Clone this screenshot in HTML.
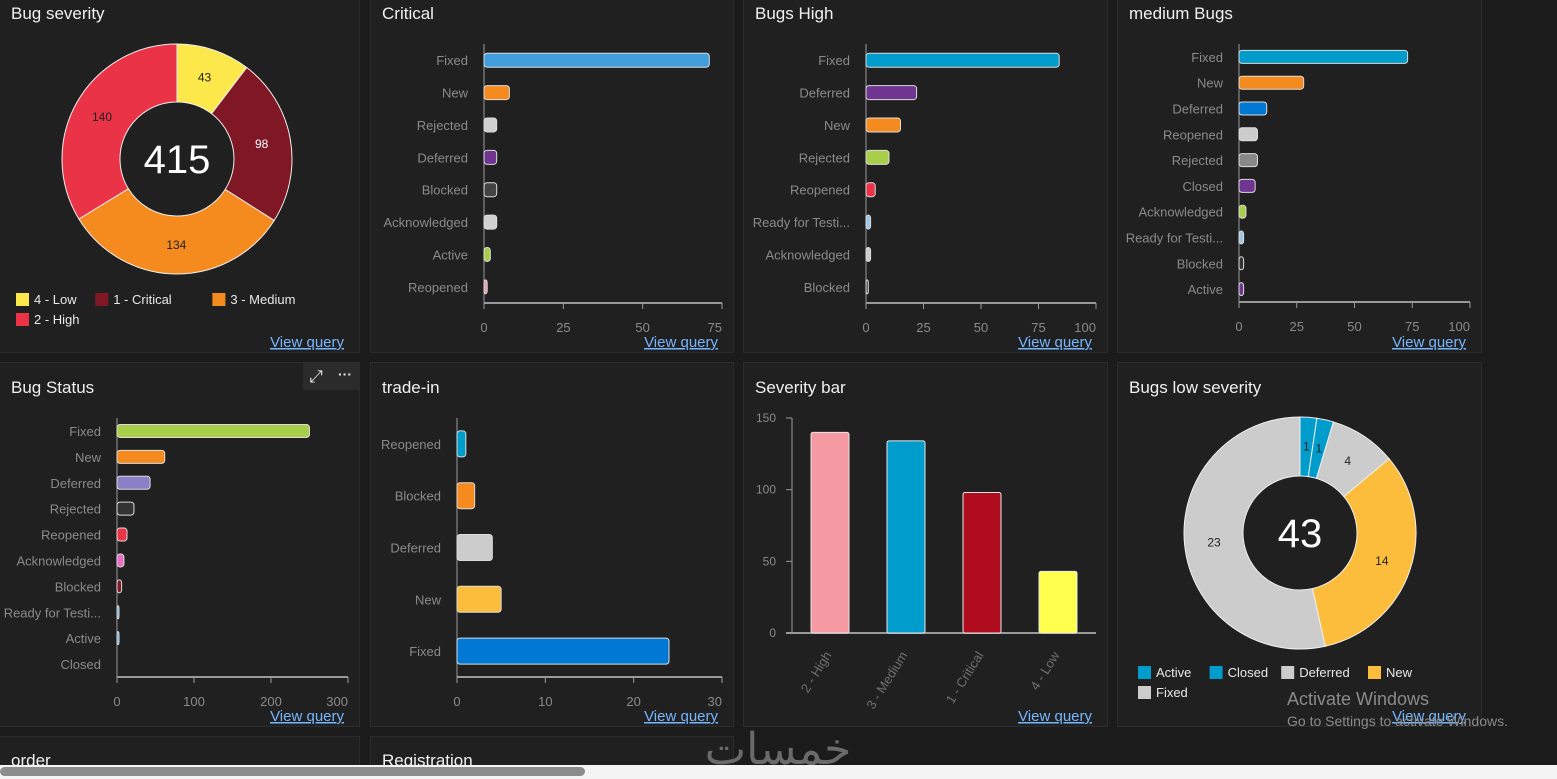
<!DOCTYPE html>
<html><head><meta charset="utf-8"><style>
html,body{margin:0;padding:0;background:#1b1b1b;width:1557px;height:779px;overflow:hidden}
svg text{font-family:"Liberation Sans","Noto Sans CJK SC",sans-serif}
</style></head><body>
<svg id="s" width="1557" height="779" xmlns="http://www.w3.org/2000/svg">
<rect x="0" y="0" width="1557" height="779" fill="#1b1b1b"/>
</svg>
<script>
// ---- data ----
const sevCats=["4 - Low","1 - Critical","3 - Medium","2 - High"];
const sevVals=[43,98,134,140];
const sevColors=["#fce84b","#7f1725","#f58b1f","#eb3348"];

const critCats=["Fixed","New","Rejected","Deferred","Blocked","Acknowledged","Active","Reopened"];
const critVals=[71,8,4,4,4,4,2,1];
const critTicks=[0,25,50,75];

const highCats=["Fixed","Deferred","New","Rejected","Reopened","Ready for Testi...","Acknowledged","Blocked"];
const highVals=[84,22,15,10,4,2,2,1];
const highTicks=[0,25,50,75,100];

const medCats=["Fixed","New","Deferred","Reopened","Rejected","Closed","Acknowledged","Ready for Testi...","Blocked","Active"];
const medVals=[73,28,12,8,8,7,3,2,2,2];
const medTicks=[0,25,50,75,100];

const statCats=["Fixed","New","Deferred","Rejected","Reopened","Acknowledged","Blocked","Ready for Testi...","Active","Closed"];
const statVals=[250,62,43,22,13,9,6,2,2,0];
const statTicks=[0,100,200,300];

const tradeCats=["Reopened","Blocked","Deferred","New","Fixed"];
const tradeVals=[1,2,4,5,24];
const tradeTicks=[0,10,20,30];

const barCats=["2 - High","3 - Medium","1 - Critical","4 - Low"];
const barVals=[140,134,98,43];
const barTicks=[0,50,100,150];

const lowCats=["Active","Closed","Deferred","New","Fixed"];
const lowVals=[1,1,4,14,23];

// ---- helpers ----
const NS="http://www.w3.org/2000/svg";
const svg=document.getElementById('s');
function mk(tag,attrs,parent,txt){const e=document.createElementNS(NS,tag);for(const k in attrs)e.setAttribute(k,attrs[k]);if(txt!==undefined)e.textContent=txt;(parent||svg).appendChild(e);return e;}

function panel(x,y,w,h,title,name,titleY,linkY){
  const g=mk('g',{});
  
  
  mk('rect',{x:x+0.5,y:y+0.5,width:w,height:h,fill:'#202020',stroke:'#2c2c2c'},g);
  const t=mk('text',{x:x+12,y:titleY,fill:'#f0f0f0','font-size':17},g,title);
  
  
  if(linkY){
    const l=mk('text',{x:x+w-15,y:linkY,fill:'#75b6ff','font-size':15,'text-anchor':'end','text-decoration':'underline'},g,'View query');
    
    
  }
  return g;
}

function hbar(g,cats,vals,colors,x0,x1,max,top,bottom,barH,ticks){
  const band=(bottom-top)/cats.length;
  const sx=v=>x0+(x1-x0)*v/max;
  mk('line',{x1:x0,y1:top,x2:x0,y2:bottom,stroke:'#9a9a9a'},g);
  mk('line',{x1:x0,y1:bottom,x2:x1,y2:bottom,stroke:'#9a9a9a','stroke-width':2},g);
  ticks.forEach(t=>{
    const last=t===ticks[ticks.length-1];
    mk('line',{x1:sx(t),y1:bottom,x2:sx(t),y2:bottom+6,stroke:'#9a9a9a'},g);
    const tl=mk('text',{x:sx(t),y:bottom+29,fill:'#8a8a8a','font-size':13,'text-anchor':last?'end':'middle'},g,String(t));
    
    
  });
  cats.forEach((c,i)=>{
    const cy=top+(i+0.5)*band;
    const lab=mk('text',{x:x0-16,y:cy+5,fill:'#8a8a8a','font-size':13,'text-anchor':'end'},g,c);
    
    
    const w=sx(vals[i])-x0;
    if(w>0){
      const b=mk('rect',{x:x0,y:cy-barH/2,width:Math.max(w,2),height:barH,rx:3,fill:colors[i],stroke:'#dcdcdc','stroke-width':1},g);
      
      
    }
  });
}

function donut(g,vals,colors,labelColors,cx,cy,r0,r1,total){
  const sum=vals.reduce((a,b)=>a+b,0);
  let a=-Math.PI/2;
  vals.forEach((v,i)=>{
    const a2=a+2*Math.PI*v/sum;
    const large=(a2-a)>Math.PI?1:0;
    const p=`M${cx+r1*Math.cos(a)},${cy+r1*Math.sin(a)} A${r1},${r1} 0 ${large} 1 ${cx+r1*Math.cos(a2)},${cy+r1*Math.sin(a2)} L${cx+r0*Math.cos(a2)},${cy+r0*Math.sin(a2)} A${r0},${r0} 0 ${large} 0 ${cx+r0*Math.cos(a)},${cy+r0*Math.sin(a)} Z`;
    const s=mk('path',{d:p,fill:colors[i],stroke:'#f0f0f0','stroke-width':1},g);
    
    
    const am=(a+a2)/2, rm=(r0+r1)/2;
    const lt=mk('text',{x:cx+rm*Math.cos(am),y:cy+rm*Math.sin(am)+4,fill:labelColors[i],'font-size':12,'text-anchor':'middle'},g,String(v));
    
    
    a=a2;
  });
  const ct=mk('text',{x:cx,y:cy+14,fill:'#ffffff','font-size':40,'text-anchor':'middle'},g,String(total));
  
  
}

function legend(g,items,colors,x,y,rowW){
  let cx=x,cy=y;
  items.forEach((it,i)=>{
    const w=it.length*7.6+26;
    if(cx+w>x+rowW){cx=x;cy+=20;}
    mk('rect',{x:cx,y:cy-11,width:13,height:13,fill:colors[i]},g);
    const t=mk('text',{x:cx+18,y:cy,fill:'#e8e8e8','font-size':13},g,it);
    
    
    cx+=w;
  });
}

// ---- panels ----
let g=panel(-1,-12,360,364,'Bug severity','bug-severity-panel',19,347);
donut(g,sevVals,sevColors,["#222","#fff","#222","#222"],177,159,57,115,415);
legend(g,sevCats,sevColors,16,304,300);

g=panel(370,-12,363,364,'Critical','critical-panel',19,347);
hbar(g,critCats,critVals,["#429ddc","#f58b1f","#d0d0d0","#6f3590","#444444","#d0d0d0","#a9cf4a","#e9a0a8"],484,722,75,44,303,14,critTicks);

g=panel(743,-12,364,364,'Bugs High','bugs-high-panel',19,347);
hbar(g,highCats,highVals,["#009ccc","#6f3590","#f58b1f","#a9cf4a","#eb3348","#9cc8e8","#cccccc","#444444"],866,1096,100,44,303,14,highTicks);

g=panel(1117,-12,364,364,'medium Bugs','medium-bugs-panel',19,347);
hbar(g,medCats,medVals,["#009ccc","#f58b1f","#0078d4","#cccccc","#888888","#6f3590","#a9cf4a","#9cc8e8","#333333","#6f3590"],1239,1470,100,44,302,13,medTicks);

g=panel(-1,362,360,364,'Bug Status','bug-status-panel',393,721);
hbar(g,statCats,statVals,["#a9cf4a","#f58b1f","#8b7fc8","#333333","#eb3348","#e86fc0","#7f1725","#5ba6e0","#5ba6e0","#cccccc"],117,348,300,418,677,13,statTicks);
{
  const tb=mk('rect',{x:303,y:362,width:56,height:28,fill:'#2b2b2b'},g);
  
  
  const ex=mk('text',{x:316,y:382,fill:'#e0e0e0','font-size':17,'text-anchor':'middle'},g,'⤢');
  
  
  const mo=mk('text',{x:345,y:379,fill:'#e0e0e0','font-size':14,'text-anchor':'middle','font-weight':'bold'},g,'···');
  
  
}

g=panel(370,362,363,364,'trade-in','trade-in-panel',393,721);
hbar(g,tradeCats,tradeVals,["#009ccc","#f58b1f","#cccccc","#fbbd3b","#0078d4"],457,722,30,418,677,26,tradeTicks);

g=panel(743,362,364,364,'Severity bar','severity-bar-panel',393,721);
{
  const x0=792,x1=1096,y0=633,y1=418,max=150;
  const sy=v=>y0-(y0-y1)*v/max;
  const band=(x1-x0)/barCats.length;
  mk('line',{x1:x0,y1:y1,x2:x0,y2:y0,stroke:'#9a9a9a'},g);
  mk('line',{x1:x0-6,y1:y0,x2:x1,y2:y0,stroke:'#9a9a9a','stroke-width':2},g);
  barTicks.forEach(t=>{
    mk('line',{x1:x0-6,y1:sy(t),x2:x0,y2:sy(t),stroke:'#9a9a9a'},g);
    const tl=mk('text',{x:x0-16,y:sy(t)+4,fill:'#8a8a8a','font-size':12,'text-anchor':'end'},g,String(t));
    
    
  });
  const colors=["#f599a2","#009ccc","#b00b1e","#ffff4d"];
  barCats.forEach((c,i)=>{
    const cx=x0+band*(i+0.5);
    const b=mk('rect',{x:cx-19,y:sy(barVals[i]),width:38,height:y0-sy(barVals[i]),rx:2,fill:colors[i],stroke:'#e8e8e8','stroke-width':1},g);
    
    
    const lt=mk('text',{x:cx+2,y:y0+22,fill:'#6f6f6f','font-size':13,'text-anchor':'end',transform:`rotate(-58 ${cx+2} ${y0+22})`},g,c);
    
    
  });
}

g=panel(1117,362,364,364,'Bugs low severity','bugs-low-severity-panel',393,721);
donut(g,lowVals,["#009ccc","#009ccc","#cccccc","#fbbd3b","#cccccc"],["#222","#222","#222","#222","#222"],1300,533,57,116,43);
legend(g,lowCats,["#009ccc","#009ccc","#cccccc","#fbbd3b","#cccccc"],1138,677,330);

g=panel(-1,736,360,60,'order','order-panel',766,0);
g=panel(370,736,363,60,'Registration','registration-panel',766,0);

// watermarks
let w=mk('text',{x:1287,y:705,fill:'#8a8a8a','font-size':18},svg,'Activate Windows');


w=mk('text',{x:1287,y:726,fill:'#8a8a8a','font-size':14},svg,'Go to Settings to activate Windows.');


w=mk('text',{x:778,y:764,fill:'#6a6a6a','font-size':44,'text-anchor':'middle'},svg,'خمسات');



// scrollbar
let sb=mk('rect',{x:0,y:765,width:1557,height:14,fill:'#f4f4f4'},svg);


sb=mk('rect',{x:0,y:767,width:585,height:9,rx:4.5,fill:'#8c8c8c'},svg);


</script>
</body></html>
